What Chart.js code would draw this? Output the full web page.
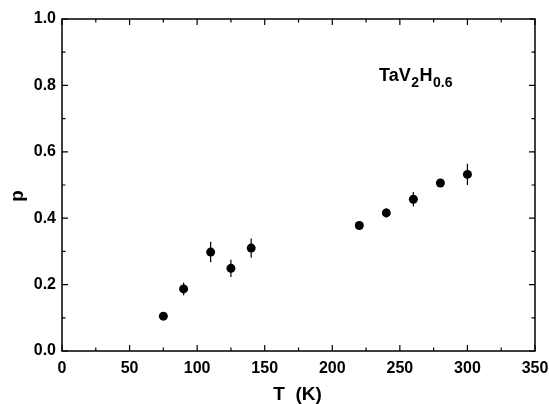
<!DOCTYPE html>
<html>
<head>
<meta charset="utf-8">
<script src="https://cdn.jsdelivr.net/npm/chart.js@4.4.0/dist/chart.umd.min.js"></script>
<style>
  html, body { margin: 0; padding: 0; background: #fff; }
  #wrap { width: 549px; height: 404px; }
</style>
</head>
<body>
<div id="wrap"><canvas id="chart" width="549" height="404"></canvas></div>
<script>
// temperature (K) and p with its uncertainty
const temps = [75, 90, 110, 125, 140, 220, 240, 260, 280, 300];
const pValues = [0.105, 0.187, 0.298, 0.249, 0.310, 0.378, 0.416, 0.457, 0.506, 0.532];
const pErrors = [0.008, 0.019, 0.031, 0.026, 0.029, 0.010, 0.014, 0.022, 0.012, 0.032];

const xTicks = [0, 50, 100, 150, 200, 250, 300, 350];
const yTicks = [0.0, 0.2, 0.4, 0.6, 0.8, 1.0];

const FONT = '"Liberation Sans", Arial, Helvetica, sans-serif';

// frame, inward ticks, error bars and text labels
const decorations = {
  id: 'decorations',
  beforeDatasetsDraw(chart) {
    const { ctx, chartArea: a, scales: { x, y } } = chart;
    ctx.save();
    ctx.strokeStyle = '#000';
    ctx.lineWidth = 1.5;
    ctx.strokeRect(a.left, a.top, a.right - a.left, a.bottom - a.top);

    ctx.lineWidth = 1.2;
    ctx.beginPath();
    for (let v = 0; v <= 350; v += 25) {
      const px = x.getPixelForValue(v);
      const len = v % 50 === 0 ? 6 : 3.5;
      ctx.moveTo(px, a.bottom); ctx.lineTo(px, a.bottom - len);
      ctx.moveTo(px, a.top); ctx.lineTo(px, a.top + len);
    }
    for (let i = 0; i <= 10; i++) {
      const py = y.getPixelForValue(i / 10);
      const len = i % 2 === 0 ? 6 : 3.5;
      ctx.moveTo(a.left, py); ctx.lineTo(a.left + len, py);
      ctx.moveTo(a.right, py); ctx.lineTo(a.right - len, py);
    }
    ctx.stroke();

    // error bars
    ctx.lineWidth = 1.2;
    ctx.beginPath();
    temps.forEach((t, i) => {
      const px = x.getPixelForValue(t);
      ctx.moveTo(px, y.getPixelForValue(pValues[i] - pErrors[i]));
      ctx.lineTo(px, y.getPixelForValue(pValues[i] + pErrors[i]));
    });
    ctx.stroke();
    ctx.restore();
  },
  afterDraw(chart) {
    const { ctx, chartArea: a } = chart;
    ctx.save();
    ctx.fillStyle = '#000';

    // axis titles
    ctx.font = 'bold 19px ' + FONT;
    ctx.textAlign = 'center';
    ctx.textBaseline = 'alphabetic';
    ctx.fillText('T  (K)', (a.left + a.right) / 2 - 1, 400);

    ctx.save();
    ctx.translate(23, 196);
    ctx.rotate(-Math.PI / 2);
    ctx.fillText('p', 0, 0);
    ctx.restore();

    // compound label with subscripts
    ctx.textAlign = 'left';
    let cx = 379;
    const base = 81;
    const parts = [
      ['TaV', 18, 0], ['2', 14, 6], ['H', 18, 0], ['0.6', 14, 6]
    ];
    parts.forEach(([txt, size, dy]) => {
      ctx.font = 'bold ' + size + 'px ' + FONT;
      ctx.fillText(txt, cx, base + dy);
      cx += ctx.measureText(txt).width + 0.5;
    });
    ctx.restore();
  }
};

new Chart(document.getElementById('chart'), {
  type: 'scatter',
  data: {
    datasets: [{
      data: temps.map((t, i) => ({ x: t, y: pValues[i] })),
      backgroundColor: '#000',
      borderColor: '#000',
      pointRadius: 4.5,
      pointHoverRadius: 4.5,
      borderWidth: 0
    }]
  },
  options: {
    responsive: false,
    animation: false,
    layout: { padding: { top: 19, right: 14, left: 0, bottom: 0 } },
    plugins: { legend: { display: false }, tooltip: { enabled: false } },
    scales: {
      x: {
        type: 'linear',
        min: 0,
        max: 350,
        afterBuildTicks(scale) { scale.ticks = xTicks.map(v => ({ value: v })); },
        afterFit(scale) {
          scale.height = 53;
          scale.paddingLeft = 0;
          scale.paddingRight = 0;
        },
        grid: { display: false, drawTicks: false },
        border: { display: false },
        ticks: {
          padding: 8,
          color: '#000',
          maxRotation: 0,
          font: { family: FONT, size: 16, weight: 'bold' }
        }
      },
      y: {
        type: 'linear',
        min: 0,
        max: 1,
        afterBuildTicks(scale) { scale.ticks = yTicks.map(v => ({ value: v })); },
        afterFit(scale) {
          scale.width = 62;
          scale.paddingTop = 0;
          scale.paddingBottom = 0;
        },
        grid: { display: false, drawTicks: false },
        border: { display: false },
        ticks: {
          padding: 6,
          color: '#000',
          font: { family: FONT, size: 16, weight: 'bold' },
          callback: v => v.toFixed(1)
        }
      }
    }
  },
  plugins: [decorations]
});
</script>
</body>
</html>
